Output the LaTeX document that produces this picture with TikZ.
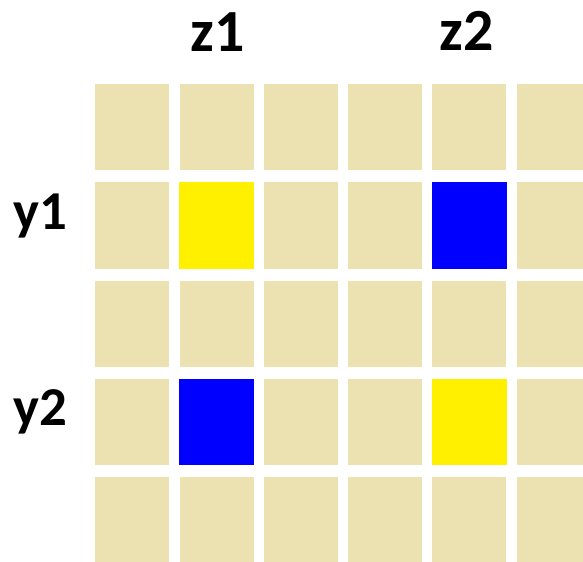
\documentclass[tikz,border=0pt]{standalone}
\usepackage{fontspec}
\setmainfont{Carlito}
\usepackage{tikz}
\usetikzlibrary{positioning}
\definecolor{GridBeige}{RGB}{236,225,176}
\definecolor{GridYellow}{RGB}{255,240,0}
\definecolor{GridBlue}{RGB}{0,0,255}
\tikzset{
  cell/.style={fill=GridBeige, minimum width=74bp, minimum height=86bp, inner sep=0pt, anchor=north west},
  zlabel/.style={font=\fontsize{60}{60}\selectfont\bfseries, inner sep=0pt, anchor=base},
  ylabel/.style={font=\fontsize{55}{55}\selectfont\bfseries, inner sep=0pt, anchor=base}
}

\begin{document}
\begin{tikzpicture}[x=1bp, y=-1bp]
\useasboundingbox (0,0) rectangle (583,562);
\clip (0,0) rectangle (583,562);

% Grid cells
\foreach \r in {1,...,5} {
    \foreach \c in {1,...,6} {
        \node[cell] (c\r\c) at ({95+84.3*(\c-1)}, {84+98.3*(\r-1)}) {};
    }
}

% Coloured cells
\foreach \r/\c/\col in {2/2/GridYellow, 2/5/GridBlue, 4/2/GridBlue, 4/5/GridYellow} {
    \fill[\col] (c\r\c.north west) rectangle (c\r\c.south east);
}

% Labels
\node[zlabel] (z1) at (218,52) {z1};
\node[zlabel] (z2) at (467,51) {z2};
\node[ylabel] (y1) at (40,230) {y1};
\node[ylabel] (y2) at (40,425) {y2};
\end{tikzpicture}
\end{document}
